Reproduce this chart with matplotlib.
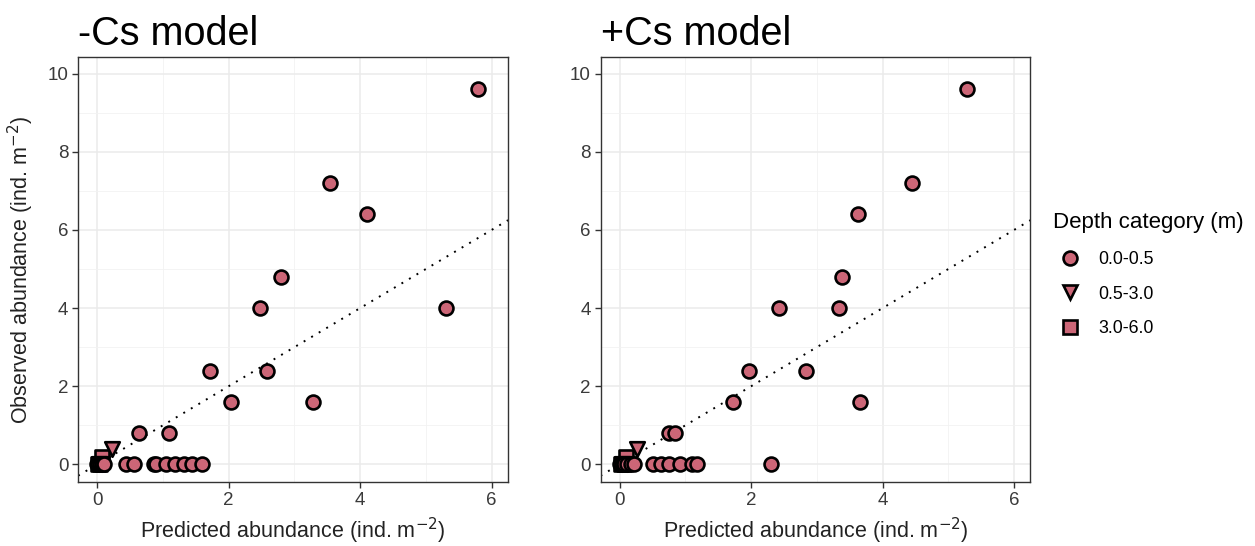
import matplotlib.pyplot as plt
from matplotlib.lines import Line2D
from matplotlib.ticker import MultipleLocator

plt.rcParams["font.family"] = ["Liberation Sans", "DejaVu Sans"]

FILL = "#CC6677"
DEPTHS = ["0.0-0.5", "0.5-3.0", "3.0-6.0"]
MARKERS = {"0.0-0.5": "o", "0.5-3.0": "v", "3.0-6.0": "s"}

# -Cs model
minus_pred_shallow = [5.79, 3.54, 4.11, 2.79, 2.47, 5.31, 1.72, 2.58, 2.04, 3.28, 0.64, 1.09,
                      0.44, 0.56, 0.87, 0.90, 1.05, 1.18, 1.32, 1.45, 1.59,
                      0.0, 0.02, 0.05, 0.08, 0.10]
minus_obs_shallow = [9.6, 7.2, 6.4, 4.8, 4.0, 4.0, 2.4, 2.4, 1.6, 1.6, 0.8, 0.8,
                     0, 0, 0, 0, 0, 0, 0, 0, 0,
                     0, 0, 0, 0, 0]
minus_pred_mid = [0.22, 0.03, 0.08]
minus_obs_mid = [0.4, 0.0, 0.0]
minus_pred_deep = [0.07, 0.01, 0.05]
minus_obs_deep = [0.2, 0.0, 0.0]

# +Cs model
plus_pred_shallow = [5.28, 4.45, 3.63, 3.38, 2.42, 3.33, 1.97, 2.83, 1.72, 3.65, 0.75, 0.84,
                     0.51, 0.63, 0.75, 0.92, 1.10, 1.17, 2.31,
                     0.0, 0.03, 0.07, 0.12, 0.17, 0.22]
plus_obs_shallow = [9.6, 7.2, 6.4, 4.8, 4.0, 4.0, 2.4, 2.4, 1.6, 1.6, 0.8, 0.8,
                    0, 0, 0, 0, 0, 0, 0,
                    0, 0, 0, 0, 0, 0]
plus_pred_mid = [0.26, 0.04, 0.12]
plus_obs_mid = [0.4, 0.0, 0.0]
plus_pred_deep = [0.09, 0.02, 0.06]
plus_obs_deep = [0.2, 0.0, 0.0]

panels = [
    ("-Cs model", [(minus_pred_shallow, minus_obs_shallow), (minus_pred_mid, minus_obs_mid),
                   (minus_pred_deep, minus_obs_deep)]),
    ("+Cs model", [(plus_pred_shallow, plus_obs_shallow), (plus_pred_mid, plus_obs_mid),
                   (plus_pred_deep, plus_obs_deep)]),
]

fig = plt.figure(figsize=(12.55, 5.46), dpi=100)
axes = [fig.add_axes([0.0622, 0.1172, 0.3426, 0.778]),
        fig.add_axes([0.4785, 0.1172, 0.3426, 0.778])]

for ax, (title, groups) in zip(axes, panels):
    ax.axline((0, 0), slope=1, color="black", ls=(0, (1, 3.5)), lw=1.4, zorder=2)
    # deepest first so the shallow circles sit on top
    for z, (depth, (xs, ys)) in zip([5, 4, 3], zip(DEPTHS, groups)):
        size = 100 if MARKERS[depth] == "o" else 110
        ax.scatter(xs, ys, marker=MARKERS[depth], s=size, facecolor=FILL,
                   edgecolor="black", linewidth=1.9, zorder=z)

    ax.set_xlim(-0.29, 6.25)
    ax.set_ylim(-0.45, 10.42)
    ax.xaxis.set_major_locator(MultipleLocator(2))
    ax.xaxis.set_minor_locator(MultipleLocator(1))
    ax.yaxis.set_major_locator(MultipleLocator(2))
    ax.yaxis.set_minor_locator(MultipleLocator(1))
    ax.grid(True, which="major", color="#EBEBEB", lw=1.1, zorder=0)
    ax.grid(True, which="minor", color="#F2F2F2", lw=0.6, zorder=0)
    ax.set_axisbelow(True)
    for side in ax.spines.values():
        side.set_color("#333333")
        side.set_linewidth(1.0)
    ax.tick_params(which="major", length=4, color="#333333", labelsize=13.5,
                   labelcolor="#3A3A3A", width=1.0, pad=3)
    ax.tick_params(which="minor", length=0)
    ax.set_xlabel("Predicted abundance (ind. m$^{-2}$)", fontsize=15.5, color="#222222", labelpad=5)
    ax.set_title(title, fontsize=28.5, loc="left", pad=9)

axes[0].set_ylabel("Observed abundance (ind. m$^{-2}$)", fontsize=15.5, color="#222222", labelpad=8)

handles = [Line2D([], [], linestyle="None", marker=MARKERS[d], markersize=10,
                  markerfacecolor=FILL, markeredgecolor="black", markeredgewidth=1.9)
           for d in DEPTHS]
fig.legend(handles, DEPTHS, title="Depth category (m)", loc="upper left",
           bbox_to_anchor=(0.826, 0.641), frameon=False, fontsize=12.8,
           title_fontsize=16, labelspacing=1.0, handletextpad=0.55,
           alignment="left")

fig.savefig("out.png", dpi=100, facecolor="white")
